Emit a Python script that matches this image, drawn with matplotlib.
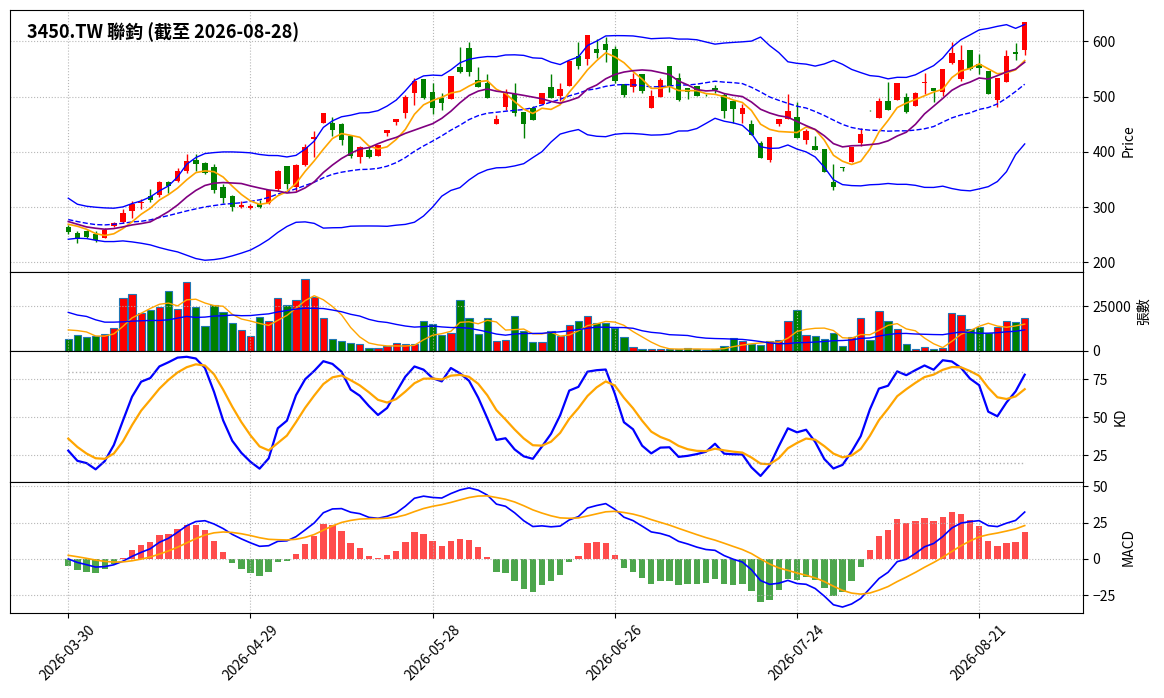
import numpy as np
import pandas as pd
import matplotlib
matplotlib.use("Agg")
import matplotlib.pyplot as plt

# ---------------- data ----------------
title = "3450.TW 聯鈞 (截至 2026-08-28)"
holidays = ["2026-04-03", "2026-04-06", "2026-05-01", "2026-06-19"]
dates = pd.bdate_range("2026-03-30", "2026-08-28", freq="C", holidays=holidays)

opens = [264.2, 252.8, 257.0, 252.2, 244.9, 265.4, 273.2, 293.2, 308.2, 320.9,
         322.0, 345.6, 347.4, 365.5, 385.4, 380.0, 372.7, 337.1, 319.7, 299.8,
         299.2, 305.2, 308.2, 333.0, 374.0, 337.1, 375.7, 423.5, 452.8, 452.2,
         449.8, 428.7, 391.4, 403.4, 393.2, 434.8, 453.4, 470.9, 507.1, 531.2,
         508.3, 496.9, 496.2, 553.5, 587.3, 529.4, 524.6, 449.8, 481.2, 505.3,
         472.1, 480.0, 487.2, 517.3, 501.1, 519.2, 573.4, 568.6, 586.1, 594.5,
         586.1, 522.2, 517.9, 540.3, 480.0, 499.3, 555.3, 533.0, 514.9, 518.6,
         503.5, 516.1, 502.3, 492.0, 469.1, 449.8, 416.7, 384.7, 449.8, 460.1,
         463.1, 422.1, 410.7, 405.2, 344.9, 372.7, 382.3, 416.7, 475.5, 461.9,
         492.0, 494.5, 499.3, 483.6, 524.0, 515.6, 508.9, 560.2, 532.4, 584.3,
         559.6, 546.3, 494.5, 526.4, 580.6, 584.9]
highs = [267.8, 257.0, 258.0, 257.0, 261.8, 273.2, 297.4, 311.2, 314.2, 332.3,
         347.0, 347.5, 371.5, 395.6, 395.6, 381.0, 377.5, 342.6, 322.1, 311.2,
         305.0, 312.4, 331.0, 367.0, 375.0, 378.0, 413.7, 437.8, 471.0, 463.7,
         452.8, 429.5, 411.0, 410.6, 412.5, 439.6, 459.5, 502.9, 533.0, 532.0,
         525.2, 507.1, 537.2, 589.7, 599.3, 554.1, 541.5, 466.7, 513.1, 525.2,
         472.1, 483.0, 506.5, 540.3, 524.6, 564.4, 599.3, 611.4, 603.5, 607.8,
         591.5, 522.2, 543.3, 540.3, 511.3, 533.0, 555.3, 543.3, 514.9, 518.6,
         505.0, 520.4, 507.1, 492.0, 487.2, 457.1, 419.7, 426.9, 459.5, 505.3,
         490.8, 440.8, 428.7, 405.2, 377.5, 372.7, 408.8, 443.8, 475.5, 498.1,
         526.4, 524.6, 507.1, 507.7, 542.1, 515.6, 549.3, 599.3, 593.3, 584.3,
         577.6, 546.3, 534.2, 584.3, 597.5, 634.9]
lows = [250.9, 235.9, 245.0, 237.7, 243.7, 264.2, 271.4, 281.1, 296.2, 309.4,
        318.5, 325.7, 345.0, 362.5, 365.5, 359.5, 326.3, 308.2, 293.1, 298.0,
        297.0, 298.0, 306.4, 330.0, 332.3, 329.3, 374.0, 390.8, 452.0, 428.7,
        412.5, 389.5, 380.5, 389.5, 392.0, 428.7, 448.6, 461.9, 484.8, 495.0,
        469.1, 475.2, 495.0, 543.0, 537.2, 518.0, 498.1, 449.8, 475.2, 464.9,
        424.5, 458.3, 486.0, 496.9, 492.0, 519.2, 549.3, 557.1, 569.2, 563.2,
        525.2, 499.3, 508.9, 507.1, 480.0, 499.3, 508.9, 492.0, 495.0, 501.1,
        501.5, 507.1, 461.9, 452.8, 452.8, 430.5, 388.3, 382.3, 446.2, 460.1,
        425.7, 414.9, 404.0, 364.3, 330.5, 365.5, 382.3, 410.7, 474.5, 461.9,
        476.4, 494.5, 470.9, 483.6, 504.1, 490.8, 501.1, 558.4, 528.2, 547.5,
        540.3, 505.3, 481.8, 526.4, 565.6, 575.2]
closes = [255.8, 241.9, 246.1, 240.1, 259.4, 271.4, 289.5, 306.4, 308.8, 313.6,
          345.6, 338.4, 365.5, 383.6, 378.7, 361.3, 331.1, 317.3, 301.0, 304.0,
          302.2, 300.4, 330.5, 365.5, 341.8, 376.3, 408.8, 426.0, 470.3, 439.0,
          420.9, 392.6, 408.8, 391.4, 412.5, 439.6, 459.5, 499.3, 528.2, 498.1,
          478.8, 489.0, 537.2, 544.5, 545.1, 518.0, 498.1, 459.5, 507.1, 470.9,
          451.0, 458.3, 506.5, 496.9, 513.1, 564.4, 555.3, 611.4, 579.4, 584.3,
          528.2, 502.9, 531.2, 510.1, 501.1, 529.4, 519.2, 494.4, 508.9, 501.1,
          502.8, 512.5, 474.0, 478.2, 478.8, 430.5, 388.3, 426.9, 459.5, 474.0,
          425.7, 437.8, 404.0, 364.3, 337.1, 371.5, 408.8, 431.8, 475.0, 492.0,
          476.4, 524.6, 472.8, 506.5, 526.4, 510.1, 549.3, 578.8, 566.2, 549.3,
          551.1, 505.3, 534.2, 573.4, 577.6, 634.9]
volumes = [6630, 8900, 7770, 8330, 9660, 12880, 29930, 31630, 21400, 23110,
           24620, 33330, 23680, 38450, 24810, 14020, 25950, 21970, 15720, 11740,
           8330, 19130, 16480, 29930, 25570, 28790, 40150, 30300, 18560, 6630,
           5490, 4550, 3790, 1520, 1330, 2650, 4360, 3600, 3600, 16860,
           15340, 8900, 10040, 28790, 18560, 9660, 18560, 5490, 6060, 19700,
           11360, 5110, 5110, 11170, 8520, 14580, 16860, 19700, 15720, 15720,
           12690, 7770, 2080, 950, 950, 760, 950, 1140, 1330, 950,
           380, 760, 2650, 7010, 5300, 3980, 3220, 5300, 6060, 16860,
           23110, 8900, 8330, 6630, 10040, 2840, 7580, 18560, 6060, 22540,
           16860, 12310, 3790, 760, 2080, 950, 1520, 21400, 20270, 12310,
           13450, 10040, 13450, 16860, 16100, 18560]

# indicator values of the first days (history before 03-30 is not in the picture)
ma5_start = [269.0, 265.4, 260.0, 252.2]
ma10_start = [273.9, 269.0, 264.2, 261.8, 260.0, 261.2, 264.2, 267.8, 270.2]
bb_mid_start = [277.5, 273.9, 270.8, 268.4, 267.8, 269.0, 270.8, 273.2, 274.4, 276.9,
                281.1, 284.7, 288.9, 293.1, 296.8, 300.4, 302.8, 305.2, 306.4]
bb_up_start = [316.1, 305.2, 301.6, 299.8, 298.6, 298.0, 300.4, 306.4, 311.2, 318.5,
               329.3, 338.4, 354.6, 377.5, 389.6, 396.8, 398.6, 399.8, 399.8]
bb_lo_start = [241.9, 243.7, 243.1, 240.1, 237.7, 237.7, 238.9, 237.1, 234.7, 231.7,
               226.8, 222.6, 219.0, 213.0, 207.0, 203.9, 205.1, 207.6, 211.8]
vol_ma5_start = [11740, 11360, 10600, 8330]
vol_ma20_start = [21590, 20080, 19320, 17420, 16100, 16100, 16290, 16670, 16860, 17050,
                  17050, 17420, 18370, 19320, 18750, 18940, 19510, 19700, 20080]
k_start = [28.0, 21.3, 19.8, 15.7, 21.1, 31.7, 47.8, 63.5]
d_start = [35.9, 30.4, 26.1, 23.0, 22.6, 26.1, 34.1, 44.8]
ema_start = 272.3      # EMA12 = EMA26 on the first day
dea_start = 2.5
kd_levels = [20, 80]

price_ticks = [200, 300, 400, 500, 600]
vol_ticks = [0, 25000]
kd_ticks = [25, 50, 75]
macd_ticks = [-25, 0, 25, 50]

# ---------------- indicators ----------------
n = len(closes)
c = pd.Series(closes, dtype=float)
v = pd.Series(volumes, dtype=float)

def with_start(series, start):
    s = series.copy()
    s.iloc[:len(start)] = start
    return s

ma5 = with_start(c.rolling(5).mean(), ma5_start)
ma10 = with_start(c.rolling(10).mean(), ma10_start)
mid = c.rolling(20).mean()
sd = c.rolling(20).std()
bb_up = with_start(mid + 2 * sd, bb_up_start)
bb_lo = with_start(mid - 2 * sd, bb_lo_start)
bb_mid = with_start(mid, bb_mid_start)
vma5 = with_start(v.rolling(5).mean(), vol_ma5_start)
vma20 = with_start(v.rolling(20).mean(), vol_ma20_start)

h9 = pd.Series(highs).rolling(9).max()
l9 = pd.Series(lows).rolling(9).min()
rsv = (c - l9) / (h9 - l9) * 100
K = list(k_start)
D = list(d_start)
for i in range(len(k_start), n):
    K.append(K[-1] * 2 / 3 + rsv[i] / 3)
    D.append(D[-1] * 2 / 3 + K[-1] / 3)

e12 = [ema_start]
e26 = [ema_start]
for i in range(1, n):
    e12.append(e12[-1] + 2 / 13 * (closes[i] - e12[-1]))
    e26.append(e26[-1] + 2 / 27 * (closes[i] - e26[-1]))
dif = np.array(e12) - np.array(e26)
dea = [dea_start]
for i in range(1, n):
    dea.append(dea[-1] * 0.8 + dif[i] * 0.2)
dea = np.array(dea)
hist = 2 * (dif - dea)

# ---------------- figure ----------------
plt.rcParams['font.family'] = ['Noto Sans CJK TC', 'DejaVu Sans']
plt.rcParams['font.size'] = 10

fig = plt.figure(figsize=(11.64, 6.98), dpi=100)
gs = fig.add_gridspec(4, 1, height_ratios=[4, 1.2, 2, 2], hspace=0,
                      left=10 / 1164, right=1083 / 1164,
                      top=1 - 10 / 698, bottom=1 - 613 / 698)
ax1 = fig.add_subplot(gs[0])
ax2 = fig.add_subplot(gs[1], sharex=ax1)
ax3 = fig.add_subplot(gs[2], sharex=ax1)
ax4 = fig.add_subplot(gs[3], sharex=ax1)

x = np.arange(n)
o = np.array(opens); h = np.array(highs); l = np.array(lows); cl = np.array(closes)
up = cl >= o
cols = np.where(up, 'red', 'green')

# candles
ax1.vlines(x, l, h, colors=cols, linewidth=1, zorder=2)
body_bottom = np.minimum(o, cl)
body_h = np.maximum(np.abs(cl - o), 0.6)
ax1.bar(x, body_h, bottom=body_bottom, width=0.6, color=cols, zorder=2)
ax1.plot(x, bb_up, color='blue', lw=1, zorder=3)
ax1.plot(x, bb_lo, color='blue', lw=1, zorder=3)
ax1.plot(x, bb_mid, color='blue', lw=1, ls='--', zorder=3)
ax1.plot(x, ma5, color='orange', lw=1.2, zorder=3)
ax1.plot(x, ma10, color='purple', lw=1.2, zorder=3)
ax1.set_yticks(price_ticks)
ax1.set_ylabel('Price')
ax1.text(0.0156, 0.893, title, transform=ax1.transAxes, fontsize=13,
         fontweight='bold', va='baseline', ha='left')

# volume
ax2.bar(x, volumes, width=0.8, color=cols, edgecolor='#1f77b4', linewidth=0.8)
ax2.plot(x, vma5, color='orange', lw=1)
ax2.plot(x, vma20, color='blue', lw=1)
ax2.set_ylim(0, max(volumes) * 1.1)
ax2.set_yticks(vol_ticks)
ax2.set_ylabel('張數')

# KD
ax3.plot(x, K, color='blue', lw=1.6)
ax3.plot(x, D, color='orange', lw=1.6)
for lev in kd_levels:
    ax3.plot(x, [lev] * n, color='gray', ls=':', lw=1, alpha=0.6)
ax3.set_yticks(kd_ticks)
ax3.set_ylabel('KD')

# MACD
hcols = np.where(hist >= 0, 'red', 'green')
ax4.bar(x, hist, width=0.7, color=hcols, alpha=0.7)
ax4.plot(x, dif, color='blue', lw=1.2)
ax4.plot(x, dea, color='orange', lw=1.2)
ax4.set_yticks(macd_ticks)
ax4.set_ylabel('MACD')

tick_idx = list(range(0, n, 20))
for ax in (ax1, ax2, ax3, ax4):
    ax.yaxis.tick_right()
    ax.yaxis.set_label_position('right')
    ax.grid(True, linestyle=':', color='#b0b0b0', alpha=0.9)
    ax.set_xlim(-6.4, n - 1 + 6.4)
for ax in (ax1, ax2, ax3):
    ax.tick_params(axis='x', labelbottom=False)
ax4.set_xticks(tick_idx)
ax4.set_xticklabels([dates[i].strftime('%Y-%m-%d') for i in tick_idx],
                    rotation=45, ha='center')

fig.savefig('out.png', dpi=100)
